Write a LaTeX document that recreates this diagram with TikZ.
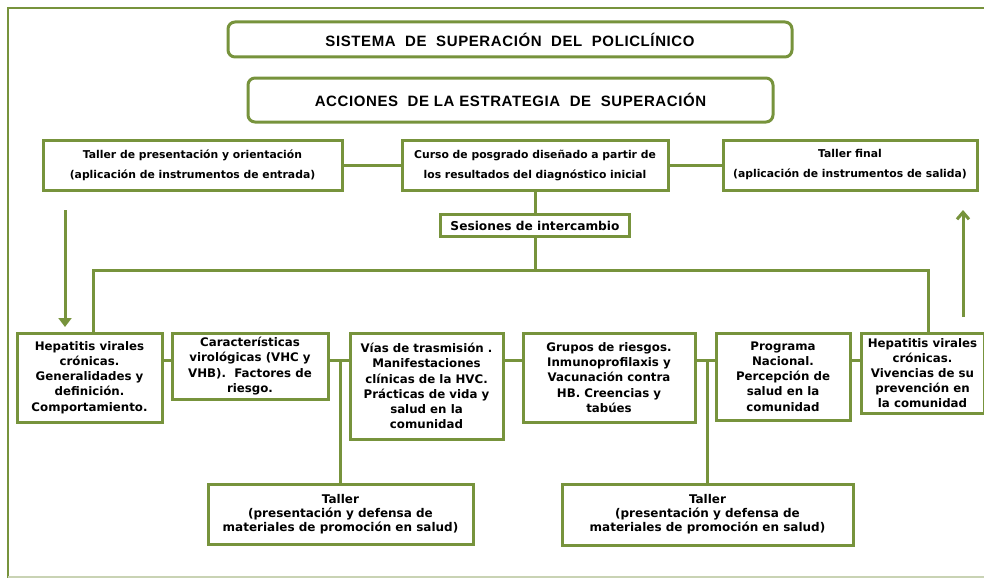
\documentclass[tikz,border=0pt]{standalone}
\usepackage{fontspec}
\newfontfamily\dv{DejaVu Sans}
\newfontfamily\ar{Liberation Sans}[LetterSpace=4]
\usetikzlibrary{arrows.meta}
\definecolor{olive}{HTML}{77933C}
\definecolor{lightframe}{HTML}{C9D3B4}
\tikzset{
  box/.style={draw=olive, line width=3pt, fill=white, align=center, inner sep=0pt},
  titlebox/.style={box, rounded corners=7pt, font={\ar\bfseries\fontsize{15}{18}\selectfont}},
  rowtwo/.style={box, font={\dv\bfseries\fontsize{10.8}{20}\selectfont}},
  rowthree/.style={box, font={\dv\bfseries\fontsize{11.8}{15.2}\selectfont}},
  taller/.style={box, font={\dv\bfseries\fontsize{12}{14}\selectfont}},
  conn/.style={draw=olive, line width=3pt},
}
\begin{document}
\begin{tikzpicture}[x=1pt,y=-1pt]
\useasboundingbox (0,0) rectangle (984,578);
% frame
\draw[olive, line width=2pt] (984,8) -- (8,8) -- (8,578);
\draw[lightframe, line width=2pt] (8,577) -- (984,577);

% titles
\node[titlebox, minimum width=564pt, minimum height=35pt] (t1) at (510,39.5)
  {SISTEMA\ \ DE\ \ SUPERACIÓN\ \ DEL\ \ POLICLÍNICO};
\node[titlebox, minimum width=525pt, minimum height=44pt] (t2) at (510.5,100)
  {ACCIONES\ \ DE LA ESTRATEGIA\ \ DE\ \ SUPERACIÓN};

% row two
\node[rowtwo, minimum width=299pt, minimum height=50pt] (tl) at (192.5,165)
  {Taller de presentación y orientación\\(aplicación de instrumentos de entrada)};
\node[rowtwo, minimum width=266pt, minimum height=50pt] (curso) at (535,165)
  {Curso de posgrado diseñado a partir de\\los resultados del diagnóstico inicial};
\node[rowtwo, minimum width=254pt, minimum height=50pt] (tf) at (850,165)
  {Taller final\\(aplicación de instrumentos de salida)};
\node[box, font={\dv\bfseries\fontsize{12.2}{14}\selectfont}, minimum width=189pt, minimum height=22pt] (ses) at (535,225.5)
  {Sesiones de intercambio};

% row three
\node[rowthree, minimum width=145pt, minimum height=89pt] (h1) at (89.5,377.5)
  {Hepatitis virales\\crónicas.\\Generalidades y\\definición.\\Comportamiento.};
\node[rowthree, minimum width=156pt, minimum height=66pt] (ca) at (250,366)
  {Características\\virológicas (VHC y\\VHB).\ \ Factores de\\riesgo.};
\node[rowthree, minimum width=153pt, minimum height=106pt] (vi) at (426.5,386)
  {Vías de trasmisión .\\Manifestaciones\\clínicas de la HVC.\\Prácticas de vida y\\salud en la\\comunidad};
\node[rowthree, minimum width=172pt, minimum height=89pt] (gr) at (609,377.5)
  {Grupos de riesgos.\\Inmunoprofilaxis y\\Vacunación contra\\HB. Creencias y\\tabúes};
\node[rowthree, minimum width=134pt, minimum height=87pt] (pr) at (783,376.5)
  {Programa\\Nacional.\\Percepción de\\salud en la\\comunidad};
\node[rowthree, minimum width=123pt, minimum height=80pt] (h2) at (922.5,373)
  {Hepatitis virales\\crónicas.\\Vivencias de su\\prevención en\\la comunidad};

% bottom talleres
\node[taller, minimum width=265pt, minimum height=60pt] (w1) at (340.5,514)
  {Taller\\(presentación y defensa de\\materiales de promoción en salud)};
\node[taller, minimum width=291pt, minimum height=61pt] (w2) at (707.5,514.5)
  {Taller\\(presentación y defensa de\\materiales de promoción en salud)};

% helper coordinates
\coordinate (hl) at (93,270);
\coordinate (hr) at (928,270);
\coordinate (rowy) at (0,360);
\coordinate (ad1) at (65,210);
\coordinate (ad2) at (65,327);
\coordinate (au1) at (963,317);
\coordinate (au2) at (963,210);

% connectors
\draw[conn] (tl.east) -- (curso.west);
\draw[conn] (curso.east) -- (tf.west);
\draw[conn] (curso.south) -- (ses.north);
\draw[conn] (ses.south) -- (ses.south |- hl);
\draw[conn] (hl |- h1.north) -- (hl) -- (hr) -- (hr |- h2.north);
\draw[conn] (h1.east |- rowy) -- (ca.west |- rowy);
\draw[conn] (ca.east |- rowy) -- (vi.west |- rowy);
\draw[conn] (vi.east |- rowy) -- (gr.west |- rowy);
\draw[conn] (gr.east |- rowy) -- (pr.west |- rowy);
\draw[conn] (pr.east |- rowy) -- (h2.west |- rowy);
\draw[conn] (w1.north) -- (w1.north |- rowy);
\draw[conn] (w2.north) -- (w2.north |- rowy);
\draw[conn, -{Triangle[width=13pt,length=9pt]}] (ad1) -- (ad2);
\draw[conn, -{Straight Barb[width=12pt,length=7pt,line width=3pt]}] (au1) -- (au2);
\end{tikzpicture}
\end{document}
